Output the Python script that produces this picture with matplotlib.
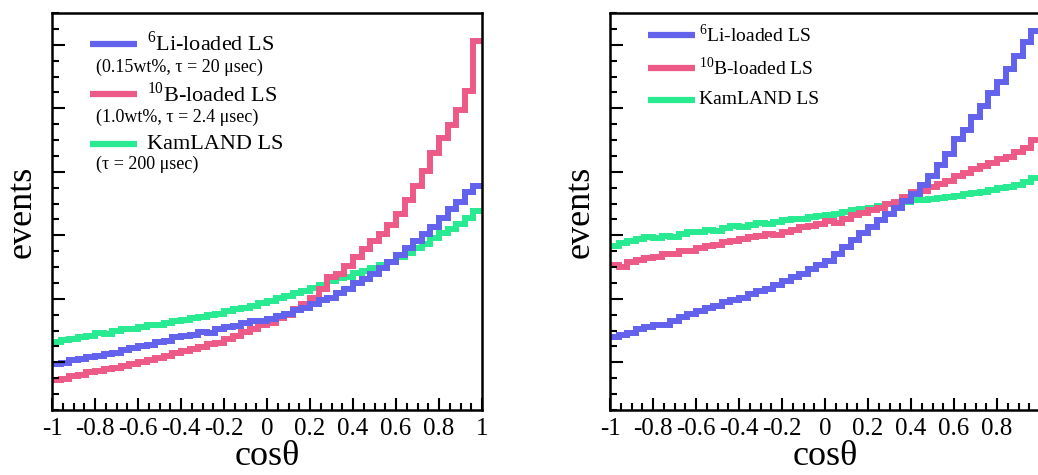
import numpy as np
import matplotlib
matplotlib.use('Agg')
import matplotlib.pyplot as plt
from matplotlib.lines import Line2D
from matplotlib.ticker import MultipleLocator

plt.rcParams['font.family'] = ['Liberation Serif', 'DejaVu Serif']
plt.rcParams['mathtext.fontset'] = 'custom'
plt.rcParams['mathtext.rm'] = 'Liberation Serif'

# 50 bins in cos(theta), arbitrary event scale
edges = np.linspace(-1, 1, 51)
xticks = [-1, -0.8, -0.6, -0.4, -0.2, 0, 0.2, 0.4, 0.6, 0.8, 1]
xticklabels = ['-1', '-0.8', '-0.6', '-0.4', '-0.2', '0', '0.2', '0.4', '0.6', '0.8', '1']

# left panel
li_left = [11.5, 11.8, 12.6, 12.9, 13.3, 13.6, 14.0, 14.3, 15.2, 15.5,
           16.2, 16.4, 17.1, 17.4, 18.3, 18.6, 18.9, 19.7, 19.5, 20.3,
           20.9, 21.2, 21.8, 22.3, 22.4, 23.0, 23.6, 24.2, 25.1, 25.8,
           26.8, 27.7, 28.3, 29.4, 30.5, 32.0, 33.1, 34.2, 35.8, 37.3,
           39.0, 40.9, 42.5, 44.3, 46.2, 48.4, 50.6, 52.5, 54.8, 56.5]
b_left = [7.6, 7.9, 8.6, 8.9, 9.5, 9.8, 10.3, 10.7, 11.2, 11.6,
          12.1, 12.6, 13.2, 13.6, 14.4, 14.8, 15.4, 15.9, 16.6, 17.0,
          18.0, 18.7, 19.6, 20.3, 21.4, 22.0, 23.2, 24.0, 25.5, 26.6,
          28.3, 30.5, 33.5, 34.3, 36.2, 38.6, 40.5, 42.6, 44.3, 46.6,
          49.5, 52.8, 56.4, 60.1, 64.7, 68.5, 71.8, 75.6, 80.4, 93.0]
kam_left = [17.2, 17.6, 18.0, 18.5, 18.7, 19.3, 19.2, 19.9, 20.4, 20.3,
            20.9, 21.4, 21.3, 22.0, 22.5, 22.7, 23.2, 23.4, 24.0, 24.3,
            24.9, 25.5, 25.6, 26.3, 26.9, 27.4, 28.1, 28.6, 29.5, 29.9,
            30.8, 31.6, 32.5, 33.2, 33.6, 34.5, 35.1, 35.8, 36.5, 37.4,
            38.6, 39.5, 40.8, 41.9, 43.4, 44.6, 45.7, 46.9, 48.3, 50.1]

# right panel
li_right = [18.3, 18.9, 19.5, 20.4, 21.0, 21.3, 21.5, 22.3, 23.4, 24.2,
            25.0, 25.6, 26.2, 27.1, 27.7, 28.3, 29.2, 30.0, 30.6, 31.4,
            32.6, 33.4, 34.3, 35.6, 36.5, 37.6, 39.2, 41.0, 42.8, 44.6,
            46.2, 47.8, 49.5, 51.0, 52.6, 54.3, 56.7, 59.0, 61.8, 64.6,
            68.2, 70.5, 73.8, 76.5, 79.8, 82.6, 86.0, 89.2, 92.6, 95.4]
b_right = [36.6, 36.0, 37.4, 37.9, 38.4, 38.6, 39.2, 39.4, 40.1, 40.0,
           40.7, 41.3, 41.6, 42.2, 42.5, 43.0, 43.6, 43.9, 44.3, 44.1,
           44.9, 45.4, 46.0, 46.3, 46.8, 47.6, 47.0, 48.2, 49.0, 49.6,
           50.4, 51.0, 51.8, 52.4, 53.7, 54.8, 55.1, 56.3, 56.9, 57.8,
           58.9, 59.7, 60.6, 61.5, 62.1, 63.2, 63.8, 65.0, 66.1, 67.9]
kam_right = [41.3, 42.0, 42.6, 43.0, 43.6, 43.4, 43.9, 43.5, 44.4, 44.8,
             44.9, 45.4, 45.2, 45.9, 46.3, 46.0, 46.6, 47.0, 46.8, 47.4,
             47.8, 48.1, 48.0, 48.6, 48.9, 49.2, 49.5, 49.8, 50.4, 50.7,
             51.0, 51.4, 51.9, 52.1, 52.5, 52.8, 53.0, 53.2, 53.5, 53.6,
             54.0, 54.3, 54.6, 54.9, 55.3, 55.8, 56.2, 56.8, 57.5, 58.4]

c_li, c_b, c_kam = '#6262ec', '#ee5a88', '#28ea90'
lw = 4.3

fig = plt.figure(figsize=(10.38, 4.75), dpi=100)
ax1 = fig.add_axes([0.0501, 0.1368, 0.4143, 0.8358])
ax2 = fig.add_axes([0.5877, 0.1368, 0.4143, 0.8358])

for ax, (li, b, kam) in zip([ax1, ax2], [(li_left, b_left, kam_left),
                                        (li_right, b_right, kam_right)]):
    ax.stairs(kam, edges, color=c_kam, lw=lw, baseline=None)
    ax.stairs(b, edges, color=c_b, lw=lw, baseline=None)
    ax.stairs(li, edges, color=c_li, lw=lw, baseline=None)
    ax.set_xlim(-1, 1)
    ax.set_ylim(0, 100)
    ax.set_xticks(xticks)
    ax.xaxis.set_minor_locator(MultipleLocator(0.05))
    ax.set_yticks(np.arange(12, 100, 16))
    ax.yaxis.set_minor_locator(MultipleLocator(4))
    ax.set_yticklabels([])
    ax.tick_params(which='both', direction='in', width=1.5, top=False, right=False)
    ax.tick_params(which='major', length=9)
    ax.tick_params(which='minor', length=5)
    ax.tick_params(axis='x', labelsize=18, pad=6)
    for s in ax.spines.values():
        s.set_linewidth(1.8)
    ax.set_xlabel('cosθ', fontsize=26, labelpad=0)
    ax.set_ylabel('events', fontsize=26, labelpad=6)

ax1.set_xticklabels(xticklabels)
# the right panel is cropped at x = 1 in the original figure
ax2.set_xticklabels(xticklabels[:-1] + [''])

# legend, left panel
def key(ax, x0, x1, y, color):
    ax.add_line(Line2D([x0, x1], [y, y], transform=ax.transAxes, color=color,
                       lw=4.5, solid_capstyle='butt'))

key(ax1, 0.088, 0.198, 0.922, c_li)
ax1.text(0.222, 0.922, '$^{6}$Li-loaded LS', transform=ax1.transAxes,
         fontsize=16, va='center')
ax1.text(0.102, 0.862, '(0.15wt%, τ = 20 μsec)', transform=ax1.transAxes,
         fontsize=13, va='center')
key(ax1, 0.088, 0.198, 0.795, c_b)
ax1.text(0.222, 0.795, '$^{10}$B-loaded LS', transform=ax1.transAxes,
         fontsize=16, va='center')
ax1.text(0.102, 0.737, '(1.0wt%, τ = 2.4 μsec)', transform=ax1.transAxes,
         fontsize=13, va='center')
key(ax1, 0.088, 0.198, 0.670, c_kam)
ax1.text(0.222, 0.670, 'KamLAND LS', transform=ax1.transAxes,
         fontsize=16, va='center')
ax1.text(0.102, 0.618, '(τ = 200 μsec)', transform=ax1.transAxes,
         fontsize=13, va='center')

# legend, right panel
for y, c, lab in [(0.945, c_li, '$^{6}$Li-loaded LS'),
                  (0.862, c_b, '$^{10}$B-loaded LS'),
                  (0.782, c_kam, 'KamLAND LS')]:
    key(ax2, 0.088, 0.198, y, c)
    ax2.text(0.208, y, lab, transform=ax2.transAxes, fontsize=14, va='center')

fig.savefig('out.png', dpi=100)
